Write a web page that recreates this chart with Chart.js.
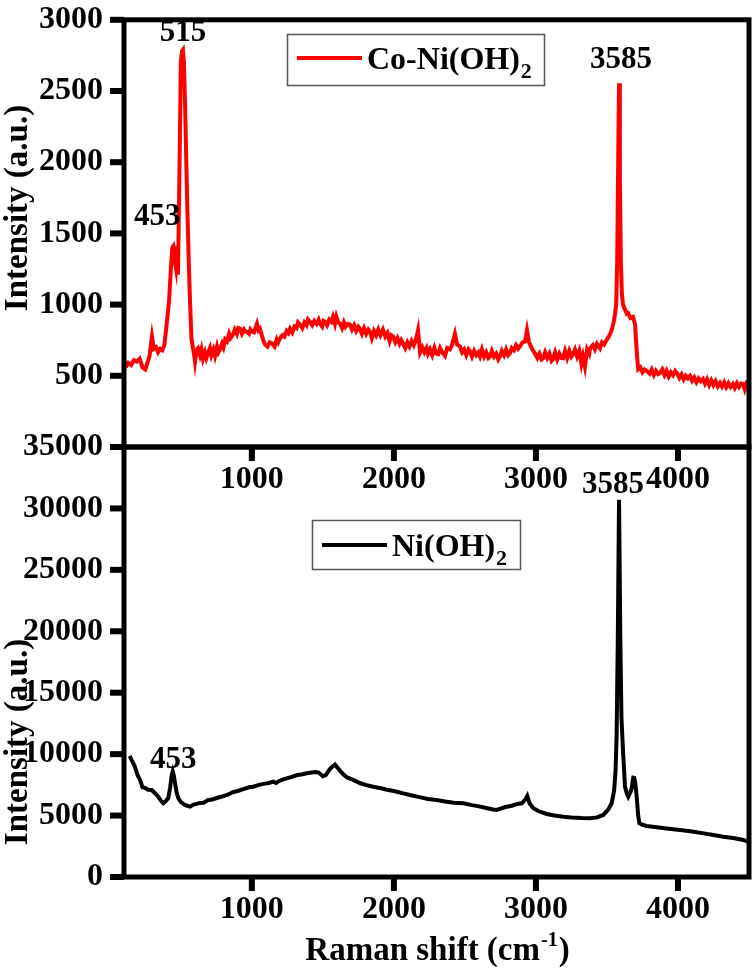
<!DOCTYPE html>
<html>
<head>
<meta charset="utf-8">
<title>Raman spectra</title>
<script src="https://cdn.jsdelivr.net/npm/chart.js@4.4.1/dist/chart.umd.min.js"></script>
<style>
  html, body { margin: 0; padding: 0; background: #fff; }
  #wrap { position: relative; width: 756px; height: 974px; overflow: hidden; background: #fff; }
  #wrap canvas { position: absolute; left: 0; top: 0; }
</style>
</head>
<body>
<div id="wrap">
  <canvas id="topChart" width="756" height="974"></canvas>
  <canvas id="bottomChart" width="756" height="974"></canvas>
</div>
<script>
// --- data ---
const xTickValues = [1000, 2000, 3000, 4000];
const topYTicks = [500, 1000, 1500, 2000, 2500, 3000];
const bottomYTicks = [0, 5000, 10000, 15000, 20000, 25000, 30000, 35000];

// Co-Ni(OH)2 spectrum (red, top panel)
const coNiShift = [113,130,150,170,190,210,230,250,265,280,297,310,325,340,355,370,385,400,417,430,
  440,447,455,465,472,480,490,500,508,515,522,530,545,556,565,575,586,595,600,610,
  621,635,645,656,670,680,691,705,715,730,741,755,765,776,790,800,812,825,840,850,
  867,880,895,905,917,930,945,955,966,980,990,1001,1015,1025,1036,1047,1057,1070,1082,1093,
  1110,1125,1142,1160,1175,1185,1198,1215,1230,1245,1258,1269,1285,1300,1315,1325,1339,1355,1370,1385,
  1395,1409,1425,1440,1455,1470,1480,1495,1505,1515,1530,1545,1560,1571,1585,1595,1608,1621,1635,1648,
  1660,1675,1691,1705,1720,1735,1750,1761,1775,1790,1805,1820,1832,1845,1860,1875,1890,1905,1923,1940,
  1955,1970,1982,1994,2010,2025,2040,2052,2064,2080,2095,2110,2125,2140,2150,2163,2170,2184,2200,2215,
  2230,2240,2254,2270,2285,2297,2311,2325,2340,2360,2375,2395,2410,2430,2445,2465,2480,2495,2510,2525,
  2536,2550,2565,2580,2595,2606,2620,2635,2650,2665,2677,2690,2705,2720,2735,2747,2760,2775,2790,2805,
  2817,2830,2845,2860,2875,2888,2905,2923,2937,2950,2958,2975,2993,3010,3025,3040,3050,3065,3080,3095,
  3110,3120,3135,3150,3165,3180,3191,3205,3220,3235,3250,3261,3275,3290,3305,3320,3331,3345,3360,3375,
  3381,3400,3415,3430,3451,3465,3480,3500,3515,3525,3536,3548,3557,3565,3572,3578,3585,3591,3598,3605,
  3613,3620,3630,3640,3650,3665,3683,3698,3705,3712,3720,3735,3750,3765,3782,3800,3815,3830,3845,3860,
  3873,3890,3905,3920,3935,3950,3965,3980,3993,4010,4025,4040,4055,4070,4085,4100,4115,4130,4145,4160,
  4176,4190,4205,4220,4235,4250,4265,4280,4296,4310,4325,4340,4355,4370,4387,4400,4415,4430,4445,4458,
  4470,4480,4490];
const coNiIntensity = [560,590,575,610,600,620,560,545,590,640,775,690,700,665,690,680,720,860,1020,1250,
  1400,1410,1320,1260,1410,1210,1900,2700,2780,2790,2700,2400,1710,1300,1018,760,690,640,600,680,
  693,645,685,620,665,625,658,695,645,685,640,705,665,686,725,700,755,741,795,765,
  789,825,795,835,831,795,825,810,810,795,825,810,805,835,866,820,831,785,745,720,
  705,735,727,705,755,735,762,785,775,815,800,831,805,845,835,875,859,835,875,855,
  895,879,855,885,865,895,866,845,885,879,855,895,880,914,865,915,875,866,835,875,
  845,865,859,825,855,815,845,831,795,835,795,825,810,765,815,785,825,785,824,775,
  800,745,785,776,735,765,725,750,727,695,735,705,745,715,740,789,820,665,700,665,
  695,655,686,645,695,655,651,695,665,640,695,686,720,795,720,706,665,685,645,685,
  672,635,675,645,665,637,685,635,665,625,637,675,635,655,615,637,675,645,685,645,
  658,695,680,715,690,706,735,741,820,740,720,685,658,625,655,615,623,665,625,655,
  605,616,665,615,655,625,623,675,625,675,635,651,685,635,675,585,637,565,685,655,
  693,715,685,725,693,735,720,755,780,800,831,880,935,1000,1300,1900,2555,1900,1300,1080,
  1000,980,960,935,940,905,914,860,741,640,547,560,525,545,533,515,545,505,535,512,
  519,545,505,535,495,525,505,535,519,485,510,475,500,482,499,465,488,455,482,462,
  478,445,475,435,468,435,462,425,450,425,455,420,448,422,443,415,448,422,446,443,
  405,438,416];

// Ni(OH)2 spectrum (black, bottom panel)
const niShift = [140,155,177,195,213,230,248,270,295,320,341,360,377,395,412,425,436,443,450,459,
  470,482,500,529,550,565,590,610,635,660,690,720,753,790,830,866,900,940,980,1010,
  1050,1090,1120,1151,1170,1190,1220,1245,1280,1320,1350,1386,1420,1450,1470,1500,1520,1550,1585,1610,
  1640,1670,1714,1760,1800,1855,1900,1950,2000,2066,2120,2180,2240,2301,2360,2420,2489,2550,2600,2650,
  2700,2724,2760,2794,2830,2870,2900,2925,2939,2955,2982,3020,3076,3130,3193,3250,3320,3381,3430,3474,
  3510,3533,3550,3560,3568,3576,3585,3594,3602,3612,3627,3640,3650,3665,3674,3685,3690,3700,3709,3720,
  3728,3750,3780,3850,3920,4014,4100,4180,4249,4320,4400,4460,4493];
const niIntensity = [9850,9500,8980,8300,7900,7300,7250,7100,7080,6800,6540,6200,6000,6200,6430,7300,8300,8600,8300,7650,
  6900,6430,6100,5860,5780,5730,5900,5950,6030,6050,6250,6300,6430,6550,6700,6900,7000,7150,7300,7350,
  7500,7600,7650,7760,7650,7800,7950,8030,8150,8300,8350,8440,8500,8550,8500,8200,8300,8800,9150,8800,
  8400,8100,7900,7650,7500,7350,7250,7100,7000,6810,6650,6500,6350,6270,6150,6050,6000,5850,5750,5620,
  5500,5460,5600,5720,5800,5950,6000,6300,6600,6000,5590,5350,5130,5000,4910,4850,4800,4780,4850,5050,
  5500,6000,7000,8500,11500,19000,30700,19500,13000,10500,7356,6800,6541,6900,7221,8100,8200,7600,6541,5000,
  4373,4250,4150,4050,3950,3827,3700,3550,3420,3280,3150,3013,2874];

// --- styling ---
const FONT = '"Liberation Serif", "Times New Roman", serif';
const AXIS_LEFT = 124;      // left edge of both plot areas
const AXIS_RIGHT_PAD = 7;   // canvas width - right edge
const TICK_LEN = 14;

// frame, tick marks, legend, peak labels and axis titles
const decorPlugin = {
  id: 'decor',
  afterDraw(chart, args, o) {
    const { ctx, chartArea: a, scales } = chart;
    ctx.save();
    ctx.strokeStyle = '#000';
    ctx.fillStyle = '#000';
    ctx.lineWidth = 5;
    ctx.strokeRect(a.left, a.top, a.right - a.left, a.bottom - a.top);

    // outward tick marks
    scales.y.ticks.forEach(t => {
      const py = scales.y.getPixelForValue(t.value);
      ctx.fillRect(a.left - TICK_LEN, py - 3, TICK_LEN, 6);
    });
    scales.x.ticks.forEach(t => {
      const px = scales.x.getPixelForValue(t.value);
      ctx.fillRect(px - 3, a.bottom, 6, TICK_LEN);
    });

    // legend box
    const lg = o.legend;
    ctx.lineWidth = 1.5;
    ctx.strokeStyle = '#555';
    ctx.strokeRect(lg.x + 0.5, lg.y + 0.5, lg.w, lg.h);
    ctx.strokeStyle = o.color;
    ctx.lineWidth = 4;
    ctx.beginPath();
    ctx.moveTo(lg.x + 10, lg.lineY);
    ctx.lineTo(lg.x + 75, lg.lineY);
    ctx.stroke();
    ctx.textAlign = 'left';
    ctx.textBaseline = 'alphabetic';
    ctx.font = 'bold 32px ' + FONT;
    ctx.fillText(lg.text, lg.x + 80, lg.baseY);
    const tw = ctx.measureText(lg.text).width;
    ctx.font = 'bold 22px ' + FONT;
    ctx.fillText('2', lg.x + 80 + tw + 1, lg.baseY + 9);

    // peak labels
    ctx.font = 'bold 31px ' + FONT;
    ctx.textAlign = 'center';
    ctx.textBaseline = 'middle';
    o.peaks.forEach(p => {
      ctx.fillText(p.text, scales.x.getPixelForValue(p.shift) + p.dx, p.cy);
    });

    // y axis title
    ctx.save();
    ctx.translate(18, o.yTitleY);
    ctx.rotate(-Math.PI / 2);
    ctx.font = 'bold 33px ' + FONT;
    ctx.fillText('Intensity (a.u.)', 0, 0);
    ctx.restore();

    // x axis title with superscript
    if (o.xTitle) {
      ctx.textAlign = 'left';
      ctx.textBaseline = 'alphabetic';
      const big = 'bold 33px ' + FONT, small = 'bold 20px ' + FONT;
      ctx.font = big;
      const w1 = ctx.measureText('Raman shift (cm').width;
      const w3 = ctx.measureText(')').width;
      ctx.font = small;
      const w2 = ctx.measureText('-1').width;
      const cx = (a.left + a.right) / 2;
      const x = cx - (w1 + w2 + w3) / 2;
      const base = o.xTitleBase;
      ctx.font = big;
      ctx.fillText('Raman shift (cm', x, base);
      ctx.font = small;
      ctx.fillText('-1', x + w1 + 1, base - 14);
      ctx.font = big;
      ctx.fillText(')', x + w1 + w2 + 2, base);
    }
    ctx.restore();
  }
};

function buildChart(id, xs, ys, color, yTicks, yMax, plotTop, plotBottom, decor) {
  const canvas = document.getElementById(id);
  const tickFont = { family: FONT, size: 32, weight: 'bold' };
  const plain = v => String(v);
  return new Chart(canvas, {
    type: 'line',
    data: {
      datasets: [{
        data: xs.map((x, i) => ({ x: x, y: ys[i] })),
        borderColor: color,
        borderWidth: 4,
        pointRadius: 0,
        tension: 0,
        fill: false
      }]
    },
    options: {
      responsive: false,
      animation: false,
      events: [],
      layout: { padding: { top: plotTop, right: AXIS_RIGHT_PAD, left: 0, bottom: 0 } },
      plugins: {
        legend: { display: false },
        tooltip: { enabled: false },
        decor: decor
      },
      scales: {
        x: {
          type: 'linear',
          min: 100,
          max: 4500,
          afterBuildTicks: s => { s.ticks = xTickValues.map(v => ({ value: v })); },
          afterFit: s => { s.height = canvas.height - plotBottom; },
          ticks: { font: tickFont, color: '#000', padding: 0, maxRotation: 0, autoSkip: false, callback: plain },
          grid: { display: false, drawTicks: true, tickLength: TICK_LEN },
          border: { display: false }
        },
        y: {
          type: 'linear',
          min: 0,
          max: yMax,
          afterBuildTicks: s => { s.ticks = yTicks.map(v => ({ value: v })); },
          afterFit: s => { s.width = AXIS_LEFT; },
          ticks: { font: Object.assign({ lineHeight: 0.8 }, tickFont), color: '#000', padding: 7, autoSkip: false, callback: plain },
          grid: { display: false, drawTicks: true, tickLength: TICK_LEN },
          border: { display: false }
        }
      }
    },
    plugins: [decorPlugin]
  });
}

// top panel: Co-Ni(OH)2
buildChart('topChart', coNiShift, coNiIntensity, '#ff0000', topYTicks, 3000, 14, 447, {
  color: '#ff0000',
  legend: { x: 287, y: 34, w: 257, h: 51, lineY: 58, baseY: 69, text: 'Co-Ni(OH)' },
  peaks: [
    { text: '515', shift: 515, dx: 0, cy: 33 },
    { text: '453', shift: 453, dx: -17, cy: 217 },
    { text: '3585', shift: 3585, dx: 2, cy: 60 }
  ],
  yTitleY: 208
});

// bottom panel: Ni(OH)2
buildChart('bottomChart', niShift, niIntensity, '#000000', bottomYTicks, 35000, 447, 877, {
  color: '#000000',
  legend: { x: 312, y: 520, w: 208, h: 49, lineY: 545, baseY: 556, text: 'Ni(OH)' },
  peaks: [
    { text: '453', shift: 453, dx: -1, cy: 760 },
    { text: '3585', shift: 3585, dx: -6, cy: 485 }
  ],
  yTitleY: 742,
  xTitle: true,
  xTitleBase: 960
});
</script>
</body>
</html>
